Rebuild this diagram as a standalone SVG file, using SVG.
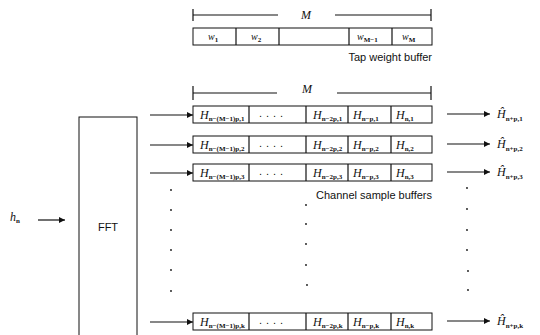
<svg xmlns="http://www.w3.org/2000/svg" width="540" height="335" viewBox="0 0 540 335">
<style>
.bx{fill:#fff;stroke:#111;stroke-width:1}
.ln{stroke:#111;stroke-width:1.2;fill:none}
.cap{font-family:"Liberation Sans",Arial,sans-serif;font-size:11px;fill:#111}
.m{font-family:"Liberation Serif","Times New Roman",serif;font-style:italic;font-size:12px;fill:#111}
.w{font-family:"Liberation Serif","Times New Roman",serif;font-style:italic;font-size:10px;fill:#111}
.sb{font-family:"Liberation Serif","Times New Roman",serif;font-size:7px;font-weight:bold;fill:#111;font-style:normal}
.dot{fill:#111}
</style>
<defs>
<marker id="ah" viewBox="0 0 10 10" refX="10" refY="5" markerWidth="7" markerHeight="6" markerUnits="userSpaceOnUse" orient="auto">
<path d="M0,0 L10,5 L0,10 z" fill="#111"/>
</marker>
</defs>
<rect width="540" height="335" fill="#fff"/>

<g id="tap-weight-buffer">
<line class="ln" x1="193" y1="9" x2="193" y2="21"/>
<line class="ln" x1="431" y1="9" x2="431" y2="21"/>
<line class="ln" x1="193" y1="15" x2="278" y2="15"/>
<line class="ln" x1="335" y1="15" x2="431" y2="15"/>
<text class="m" x="306" y="19" text-anchor="middle">M</text>
<rect class="bx" x="193" y="28" width="239" height="17"/>
<line class="ln" x1="236" y1="28" x2="236" y2="45"/>
<line class="ln" x1="279" y1="28" x2="279" y2="45"/>
<line class="ln" x1="349" y1="28" x2="349" y2="45"/>
<line class="ln" x1="392" y1="28" x2="392" y2="45"/>
<text class="w" x="208" y="40">w<tspan class="sb" dy="2">1</tspan></text>
<text class="w" x="251" y="40">w<tspan class="sb" dy="2">2</tspan></text>
<text class="w" x="357" y="40">w<tspan class="sb" dy="2">M−1</tspan></text>
<text class="w" x="402" y="40">w<tspan class="sb" dy="2">M</tspan></text>
<text class="cap" x="432" y="61" text-anchor="end">Tap weight buffer</text>
</g>

<g id="channel-bracket">
<line class="ln" x1="193" y1="86" x2="193" y2="100"/>
<line class="ln" x1="431" y1="86" x2="431" y2="100"/>
<line class="ln" x1="193" y1="93" x2="277" y2="93"/>
<line class="ln" x1="337" y1="93" x2="431" y2="93"/>
<text class="m" x="307" y="93" text-anchor="middle">M</text>
</g>

<g id="fft">
<rect class="bx" x="79" y="117" width="58" height="230"/>
<text class="cap" x="108" y="231" text-anchor="middle">FFT</text>
</g>

<g id="input-hn">
<text class="m" x="10" y="221">h<tspan class="sb" dy="2">n</tspan></text>
</g>

<g id="buffer-1">
<rect class="bx" x="193" y="106" width="239" height="17"/>
<line class="ln" x1="249" y1="106" x2="249" y2="123"/>
<line class="ln" x1="306" y1="106" x2="306" y2="123"/>
<line class="ln" x1="348" y1="106" x2="348" y2="123"/>
<line class="ln" x1="391" y1="106" x2="391" y2="123"/>
<text class="m" x="200" y="119">H<tspan class="sb" dy="2">n−(M−1)p,1</tspan></text>
<text class="cap" x="273" y="117" text-anchor="middle" letter-spacing="4">....</text>
<text class="m" x="313" y="119">H<tspan class="sb" dy="2">n−2p,1</tspan></text>
<text class="m" x="353" y="119">H<tspan class="sb" dy="2">n−p,1</tspan></text>
<text class="m" x="396" y="119">H<tspan class="sb" dy="2">n,1</tspan></text>
</g>

<g id="buffer-2">
<rect class="bx" x="193" y="136" width="239" height="17"/>
<line class="ln" x1="249" y1="136" x2="249" y2="153"/>
<line class="ln" x1="306" y1="136" x2="306" y2="153"/>
<line class="ln" x1="348" y1="136" x2="348" y2="153"/>
<line class="ln" x1="391" y1="136" x2="391" y2="153"/>
<text class="m" x="200" y="149">H<tspan class="sb" dy="2">n−(M−1)p,2</tspan></text>
<text class="cap" x="273" y="147" text-anchor="middle" letter-spacing="4">....</text>
<text class="m" x="313" y="149">H<tspan class="sb" dy="2">n−2p,2</tspan></text>
<text class="m" x="353" y="149">H<tspan class="sb" dy="2">n−p,2</tspan></text>
<text class="m" x="396" y="149">H<tspan class="sb" dy="2">n,2</tspan></text>
</g>

<g id="buffer-3">
<rect class="bx" x="193" y="164" width="239" height="17"/>
<line class="ln" x1="249" y1="164" x2="249" y2="181"/>
<line class="ln" x1="306" y1="164" x2="306" y2="181"/>
<line class="ln" x1="348" y1="164" x2="348" y2="181"/>
<line class="ln" x1="391" y1="164" x2="391" y2="181"/>
<text class="m" x="200" y="177">H<tspan class="sb" dy="2">n−(M−1)p,3</tspan></text>
<text class="cap" x="273" y="175" text-anchor="middle" letter-spacing="4">....</text>
<text class="m" x="313" y="177">H<tspan class="sb" dy="2">n−2p,3</tspan></text>
<text class="m" x="353" y="177">H<tspan class="sb" dy="2">n−p,3</tspan></text>
<text class="m" x="396" y="177">H<tspan class="sb" dy="2">n,3</tspan></text>
<text class="cap" x="432" y="199" text-anchor="end">Channel sample buffers</text>
</g>

<g id="buffer-k">
<rect class="bx" x="193" y="313" width="239" height="17"/>
<line class="ln" x1="249" y1="313" x2="249" y2="330"/>
<line class="ln" x1="306" y1="313" x2="306" y2="330"/>
<line class="ln" x1="348" y1="313" x2="348" y2="330"/>
<line class="ln" x1="391" y1="313" x2="391" y2="330"/>
<text class="m" x="200" y="326">H<tspan class="sb" dy="2">n−(M−1)p,k</tspan></text>
<text class="cap" x="273" y="324" text-anchor="middle" letter-spacing="4">....</text>
<text class="m" x="313" y="326">H<tspan class="sb" dy="2">n−2p,k</tspan></text>
<text class="m" x="353" y="326">H<tspan class="sb" dy="2">n−p,k</tspan></text>
<text class="m" x="396" y="326">H<tspan class="sb" dy="2">n,k</tspan></text>
</g>

<g id="outputs">
<text class="m" x="497" y="118">Ĥ<tspan class="sb" dy="3">n+p,1</tspan></text>
<text class="m" x="497" y="148">Ĥ<tspan class="sb" dy="3">n+p,2</tspan></text>
<text class="m" x="497" y="176">Ĥ<tspan class="sb" dy="3">n+p,3</tspan></text>
<text class="m" x="497" y="325">Ĥ<tspan class="sb" dy="3">n+p,k</tspan></text>
</g>

<g id="ellipsis-dots">
<circle class="dot" cx="171" cy="190" r="0.9"/>
<circle class="dot" cx="171" cy="210" r="0.9"/>
<circle class="dot" cx="171" cy="230" r="0.9"/>
<circle class="dot" cx="171" cy="250" r="0.9"/>
<circle class="dot" cx="171" cy="270" r="0.9"/>
<circle class="dot" cx="171" cy="291" r="0.9"/>
<circle class="dot" cx="306" cy="205" r="0.9"/>
<circle class="dot" cx="306" cy="224" r="0.9"/>
<circle class="dot" cx="306" cy="244" r="0.9"/>
<circle class="dot" cx="306" cy="265" r="0.9"/>
<circle class="dot" cx="307" cy="285" r="0.9"/>
<circle class="dot" cx="467" cy="188" r="0.9"/>
<circle class="dot" cx="467" cy="209" r="0.9"/>
<circle class="dot" cx="467" cy="230" r="0.9"/>
<circle class="dot" cx="467" cy="250" r="0.9"/>
<circle class="dot" cx="468" cy="271" r="0.9"/>
<circle class="dot" cx="468" cy="290" r="0.9"/>
</g>

<g id="connectors">
<line class="ln" x1="38" y1="220" x2="65" y2="220" marker-end="url(#ah)"/>
<line class="ln" x1="150" y1="115" x2="193" y2="115" marker-end="url(#ah)"/>
<line class="ln" x1="150" y1="145" x2="193" y2="145" marker-end="url(#ah)"/>
<line class="ln" x1="150" y1="173" x2="193" y2="173" marker-end="url(#ah)"/>
<line class="ln" x1="150" y1="322" x2="193" y2="322" marker-end="url(#ah)"/>
<line class="ln" x1="447" y1="114" x2="490" y2="114" marker-end="url(#ah)"/>
<line class="ln" x1="447" y1="144" x2="490" y2="144" marker-end="url(#ah)"/>
<line class="ln" x1="447" y1="172" x2="490" y2="172" marker-end="url(#ah)"/>
<line class="ln" x1="447" y1="321" x2="490" y2="321" marker-end="url(#ah)"/>
</g>
</svg>
